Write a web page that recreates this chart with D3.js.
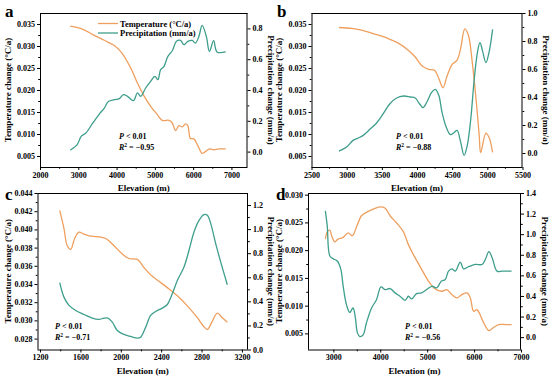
<!DOCTYPE html>
<html><head><meta charset="utf-8">
<script src="https://cdn.jsdelivr.net/npm/d3@7"></script>
<style>
body{margin:0;background:#fff;}
svg{display:block;}
text{font-family:"Liberation Serif","Times New Roman",serif;font-weight:bold;fill:#000;}
</style></head>
<body><svg id="c" width="550" height="378"></svg>
<script>
// ---------- DATA ----------
const aTempElev = [2790,3120,3380,3680,3940,4130,4370,4545,4720,4890,5065,5195,5370,5455,5540,5630,5715,5800,5860,5930,6020,6120,6235,6320,6435,6540,6670,6850];
const aTemp = [0.0345,0.0338,0.0326,0.0313,0.0301,0.0285,0.0250,0.0216,0.0186,0.0163,0.0144,0.0131,0.0131,0.0125,0.0108,0.0119,0.0116,0.0123,0.0119,0.0090,0.0089,0.0074,0.0056,0.0060,0.0066,0.0064,0.0066,0.0066];
const aPrecElev = [2790,2970,3075,3200,3380,3550,3680,3785,3940,4070,4180,4285,4440,4545,4630,4760,4890,5000,5080,5150,5240,5340,5455,5565,5670,5760,5860,5975,6060,6150,6235,6345,6425,6535,6625,6850];
const aPrec = [0.009,0.045,0.099,0.121,0.186,0.244,0.283,0.326,0.337,0.344,0.370,0.359,0.331,0.381,0.359,0.413,0.456,0.489,0.467,0.532,0.554,0.618,0.655,0.716,0.722,0.694,0.716,0.722,0.705,0.748,0.819,0.748,0.651,0.720,0.647,0.647];

const bTempElev = [2890,3070,3210,3400,3590,3740,3880,3975,4070,4165,4250,4310,4370,4430,4500,4570,4620,4680,4730,4785,4835,4885,4905,4980,5025,5075];
const bTemp = [0.0342,0.0340,0.0336,0.0327,0.0317,0.0306,0.0290,0.0275,0.0255,0.0247,0.0245,0.0226,0.0205,0.0233,0.0258,0.0268,0.0294,0.0339,0.0325,0.0264,0.0187,0.0096,0.0058,0.0102,0.0092,0.0058];
const bPrecElev = [2890,3000,3090,3165,3235,3330,3425,3520,3615,3710,3810,3905,3975,4035,4085,4140,4205,4260,4310,4355,4415,4475,4525,4570,4620,4670,4715,4765,4810,4860,4895,4930,4980,5025,5075];
const bPrec = [0.014,0.043,0.090,0.107,0.126,0.169,0.214,0.281,0.352,0.393,0.407,0.400,0.393,0.352,0.324,0.364,0.431,0.455,0.412,0.293,0.186,0.131,0.145,0.162,0.079,-0.017,0.055,0.245,0.507,0.721,0.788,0.733,0.645,0.721,0.883];

const cTempElev = [1395,1437,1470,1504,1543,1586,1629,1685,1767,1850,1933,2015,2081,2164,2230,2296,2378,2461,2560,2659,2758,2824,2857,2906,2956,3005,3055];
const cTemp = [0.0421,0.0401,0.0382,0.0378,0.0390,0.0397,0.0395,0.0393,0.0392,0.0390,0.0382,0.0373,0.0368,0.0367,0.0358,0.0350,0.0343,0.0336,0.0327,0.0316,0.0303,0.0293,0.0290,0.0299,0.0308,0.0303,0.0298];
const cPrecElev = [1395,1437,1487,1553,1636,1718,1784,1834,1873,1916,1965,2032,2098,2164,2197,2247,2296,2346,2411,2461,2510,2560,2626,2676,2725,2775,2824,2857,2891,2940,2990,3055];
const cPrec = [0.555,0.435,0.366,0.324,0.291,0.260,0.250,0.260,0.260,0.227,0.158,0.125,0.108,0.094,0.102,0.186,0.283,0.316,0.344,0.374,0.463,0.574,0.685,0.824,0.976,1.073,1.121,1.115,1.046,0.879,0.726,0.538];

const dTempElev = [2830,2870,2925,2970,3030,3100,3210,3315,3405,3495,3600,3705,3850,3995,4100,4210,4350,4495,4600,4745,4885,5030,5170,5315,5420,5525,5635,5740,5850,5920,5990,6060,6115,6205,6315,6420,6525,6670,6800];
const dTemp = [0.0220,0.0233,0.0236,0.0224,0.0215,0.0220,0.0223,0.0231,0.0226,0.0242,0.0262,0.0268,0.0274,0.0278,0.0276,0.0262,0.0249,0.0233,0.0210,0.0186,0.0165,0.0144,0.0130,0.0126,0.0129,0.0120,0.0114,0.0120,0.0123,0.0114,0.0090,0.0093,0.0086,0.0069,0.0055,0.0061,0.0066,0.0066,0.0066];
const dPrecElev = [2830,2870,2925,2995,3085,3160,3210,3280,3350,3420,3470,3515,3565,3635,3705,3815,3920,4015,4100,4210,4315,4420,4530,4600,4670,4775,4885,4990,5100,5205,5300,5385,5455,5525,5600,5705,5775,5885,6030,6170,6240,6315,6385,6490,6600,6800];
const dPrec = [1.227,1.081,0.788,0.762,0.739,0.658,0.494,0.316,0.240,0.283,0.186,0.039,0.006,0.022,0.137,0.283,0.364,0.489,0.462,0.472,0.430,0.397,0.358,0.397,0.371,0.423,0.430,0.462,0.494,0.479,0.543,0.560,0.641,0.664,0.641,0.729,0.664,0.684,0.706,0.706,0.755,0.830,0.772,0.641,0.641,0.641];

// tick labels
const aXTicks = [2000,3000,4000,5000,6000,7000];
const bXTicks = [2500,3000,3500,4000,4500,5000,5500];
const cXTicks = [1200,1600,2000,2400,2800,3200];
const dXTicks = [3000,4000,5000,6000,7000];
const abTempTicks = [0.005,0.010,0.015,0.020,0.025,0.030,0.035];
const cTempTicks = [0.028,0.030,0.032,0.034,0.036,0.038,0.040,0.042,0.044];
const dTempTicks = [0.005,0.010,0.015,0.020,0.025,0.030];
const aPrecTicks = [0.0,0.2,0.4,0.6,0.8];
const bPrecTicks = [0.0,0.2,0.4,0.6,0.8,1.0];
const cPrecTicks = [0.0,0.2,0.4,0.6,0.8,1.0,1.2];
const dPrecTicks = [0.0,0.2,0.4,0.6,0.8,1.0,1.2,1.4];
const stats = {a:["0.01","−0.95"], b:["0.01","−0.88"], c:["0.01","−0.71"], d:["0.01","−0.56"]};

const ORANGE = "#EE9F5E", TEAL = "#3E9E8C";
const svg = d3.select("#c");

function mids(t){const m=[];for(let i=0;i<t.length-1;i++)m.push((t[i]+t[i+1])/2);return m;}

function panel(o){
  const g = svg.append("g");
  const x = d3.scaleLinear().domain(o.xd).range([o.L,o.R]);
  const yl = d3.scaleLinear().domain(o.yld).range([o.B,o.T]);
  const yr = d3.scaleLinear().domain(o.yrd).range([o.B,o.T]);
  g.append("line").attr("x1",o.L).attr("x2",o.R).attr("y1",o.T+0.5).attr("y2",o.T+0.5).attr("stroke","#000").attr("stroke-width",1);
  const fs = "8px";
  const xa = g.append("g").attr("transform",`translate(0,${o.B})`)
    .call(d3.axisBottom(x).tickValues(o.xt).tickFormat(d3.format("d")).tickSizeOuter(0).tickSize(3).tickPadding(2));
  const xm = g.append("g").attr("transform",`translate(0,${o.B})`)
    .call(d3.axisBottom(x).tickValues(mids(o.xt)).tickFormat("").tickSizeOuter(0).tickSize(1.8));
  const ya = g.append("g").attr("transform",`translate(${o.L},0)`)
    .call(d3.axisLeft(yl).tickValues(o.ylt).tickFormat(d3.format(".3f")).tickSizeOuter(0).tickSize(3).tickPadding(2));
  const ym = g.append("g").attr("transform",`translate(${o.L},0)`)
    .call(d3.axisLeft(yl).tickValues(mids(o.ylt)).tickFormat("").tickSizeOuter(0).tickSize(1.8));
  const ra = g.append("g").attr("transform",`translate(${o.R},0)`)
    .call(d3.axisRight(yr).tickValues(o.yrt).tickFormat(d3.format(".1f")).tickSizeOuter(0).tickSize(3).tickPadding(2));
  const rm = g.append("g").attr("transform",`translate(${o.R},0)`)
    .call(d3.axisRight(yr).tickValues(mids(o.yrt)).tickFormat("").tickSizeOuter(0).tickSize(1.8));
  [xa,xm,ya,ym,ra,rm].forEach(a=>{
    a.selectAll("text").style("font-size",fs).style("font-family",'"Liberation Serif",serif').style("font-weight","bold");
    a.selectAll("path,line").attr("stroke","#000").attr("stroke-width",1);
  });
  xa.select("path").attr("d",`M${o.L},0.5H${o.R}`);
  ya.select("path").attr("d",`M0.5,${o.B}V${o.T}`);
  ra.select("path").attr("d",`M-0.5,${o.B}V${o.T}`);
  xm.select("path").remove(); ym.select("path").remove(); rm.select("path").remove();
  const lt = d3.line().x(d=>x(d[0])).y(d=>yl(d[1])).curve(d3.curveCatmullRom.alpha(0.5));
  const lp = d3.line().x(d=>x(d[0])).y(d=>yr(d[1])).curve(d3.curveCatmullRom.alpha(0.5));
  g.append("path").attr("d",lt(d3.zip(o.te,o.tv))).attr("fill","none").attr("stroke",ORANGE).attr("stroke-width",1.3);
  g.append("path").attr("d",lp(d3.zip(o.pe,o.pv))).attr("fill","none").attr("stroke",TEAL).attr("stroke-width",1.3);
  g.append("text").attr("x",(o.L+o.R)/2).attr("y",o.B+24).attr("text-anchor","middle").style("font-size","9px").text("Elevation (m)");
  g.append("text").attr("transform",`translate(${o.ltx},${(o.T+o.B)/2}) rotate(-90)`).attr("text-anchor","middle").style("font-size","9px").text("Temperature change (°C/a)");
  g.append("text").attr("transform",`translate(${o.rtx},${(o.T+o.B)/2}) rotate(90)`).attr("text-anchor","middle").style("font-size","9px").text("Precipitation change (mm/a)");
  const st = stats[o.id];
  const t1 = g.append("text").attr("x",o.sx).attr("y",o.sy).style("font-size","8px");
  t1.append("tspan").style("font-style","italic").text("P");
  t1.append("tspan").text(" < " + st[0]);
  const t2 = g.append("text").attr("x",o.sx).attr("y",o.sy+11).style("font-size","8px");
  t2.append("tspan").style("font-style","italic").text("R");
  t2.append("tspan").attr("dy",-3).style("font-size","5.5px").text("2");
  t2.append("tspan").attr("dy",3).text(" = " + st[1]);
  g.append("text").attr("x",o.lx).attr("y",o.ly).style("font-size","17px").text(o.id);
  return {g,x,yl,yr};
}

panel({id:"a",L:40,R:247.5,T:13,B:167,xd:[2000,7420],yld:[0.0025,0.0375],yrd:[-0.1,0.9],
  xt:aXTicks,ylt:abTempTicks,yrt:aPrecTicks,te:aTempElev,tv:aTemp,pe:aPrecElev,pv:aPrec,
  ltx:11,rtx:267.5,sx:119,sy:139,lx:5,ly:17});
panel({id:"b",L:311.5,R:522.5,T:13,B:167,xd:[2500,5500],yld:[0.0025,0.0375],yrd:[-0.1,1.0],
  xt:bXTicks,ylt:abTempTicks,yrt:bPrecTicks,te:bTempElev,tv:bTemp,pe:bPrecElev,pv:bPrec,
  ltx:282,rtx:542.5,sx:396,sy:139,lx:277,ly:17});
panel({id:"c",L:37.5,R:248,T:193,B:349.5,xd:[1175,3260],yld:[0.0268,0.044],yrd:[0,1.3],
  xt:cXTicks,ylt:cTempTicks,yrt:cPrecTicks,te:cTempElev,tv:cTemp,pe:cPrecElev,pv:cPrec,
  ltx:11,rtx:267.5,sx:55,sy:329,lx:5,ly:200});
panel({id:"d",L:308,R:521,T:193,B:349.5,xd:[2460,7000],yld:[0.0021,0.0303],yrd:[-0.12,1.4],
  xt:dXTicks,ylt:dTempTicks,yrt:dPrecTicks,te:dTempElev,tv:dTemp,pe:dPrecElev,pv:dPrec,
  ltx:282,rtx:541.5,sx:405,sy:329,lx:276,ly:200});

const leg = svg.append("g");
[["Temperature (°C/a)",ORANGE,23.5],["Precipitation (mm/a)",TEAL,33]].forEach(([t,c,y])=>{
  leg.append("line").attr("x1",98).attr("x2",118).attr("y1",y).attr("y2",y).attr("stroke",c).attr("stroke-width",1.3);
  leg.append("text").attr("x",120).attr("y",y+3).style("font-size","8.5px").text(t);
});
</script></body></html>
